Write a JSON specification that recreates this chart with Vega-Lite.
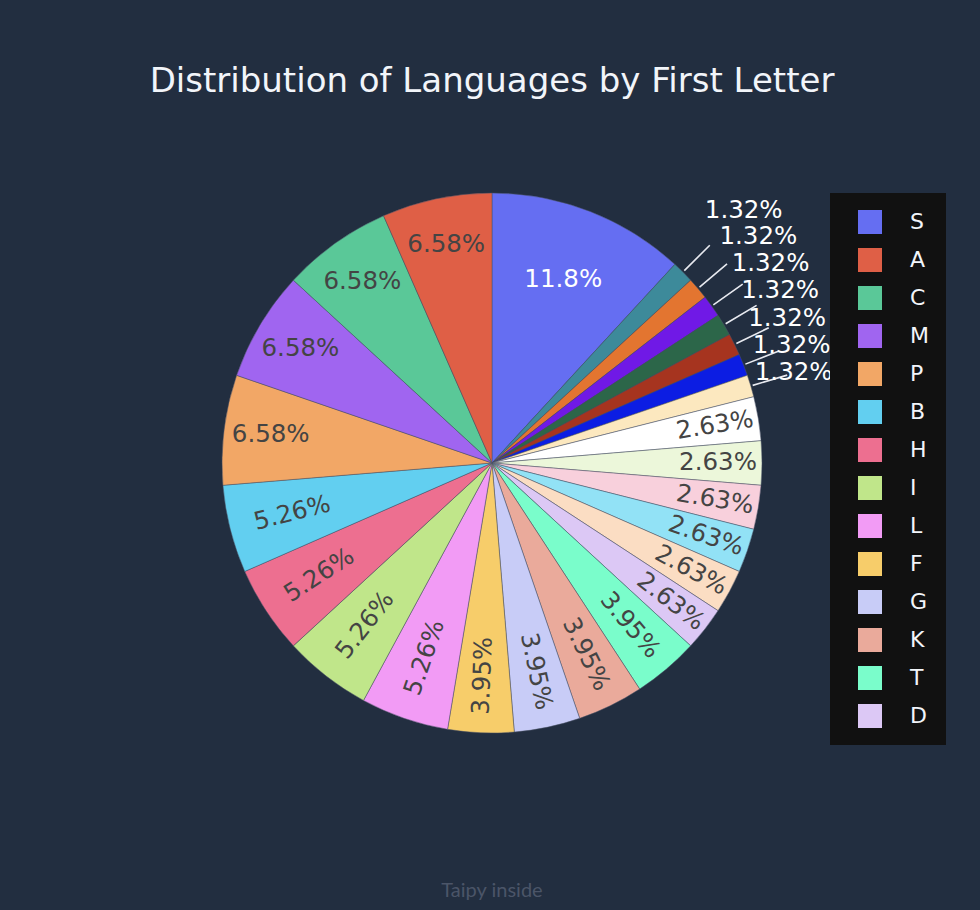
{
  "$schema": "https://vega.github.io/schema/vega-lite/v6.json",
  "background": "#222e40",
  "autosize": {"type": "pad"},
  "padding": {"left": 100, "top": 65, "right": 34, "bottom": 9},
  "bounds": "flush",
  "title": {
    "text": "Distribution of Languages by First Letter",
    "font": "DejaVu Sans",
    "fontSize": 34,
    "fontWeight": "normal",
    "color": "#f2f5fa",
    "anchor": "middle",
    "frame": "group",
    "baseline": "alphabetic",
    "offset": -16
  },
  "config": {
    "view": {"stroke": null, "fill": "#222e40"}
  },
  "vconcat": [
    {
      "width": 784,
      "height": 706,
      "title": {
        "text": "Taipy inside",
        "orient": "bottom",
        "anchor": "middle",
        "frame": "group",
        "baseline": "top",
        "offset": 65,
        "font": "Lato",
        "fontSize": 20,
        "fontWeight": "normal",
        "color": "#4b5568"
      },
      "data": {
        "values": [
          {"letter": "S", "count": 9},
          {"letter": "Z", "count": 1},
          {"letter": "Y", "count": 1},
          {"letter": "X", "count": 1},
          {"letter": "W", "count": 1},
          {"letter": "Q", "count": 1},
          {"letter": "O", "count": 1},
          {"letter": "J", "count": 1},
          {"letter": "V", "count": 2},
          {"letter": "U", "count": 2},
          {"letter": "R", "count": 2},
          {"letter": "N", "count": 2},
          {"letter": "E", "count": 2},
          {"letter": "D", "count": 2},
          {"letter": "T", "count": 3},
          {"letter": "K", "count": 3},
          {"letter": "G", "count": 3},
          {"letter": "F", "count": 3},
          {"letter": "L", "count": 4},
          {"letter": "I", "count": 4},
          {"letter": "H", "count": 4},
          {"letter": "B", "count": 4},
          {"letter": "P", "count": 5},
          {"letter": "M", "count": 5},
          {"letter": "C", "count": 5},
          {"letter": "A", "count": 5}
        ]
      },
      "transform": [
        {"window": [{"op": "row_number", "as": "idx"}]},
        {"joinaggregate": [{"op": "sum", "field": "count", "as": "total"}]},
        {"window": [{"op": "sum", "field": "count", "as": "cum"}], "sort": [{"field": "idx"}], "frame": [null, 0]},
        {"calculate": "datum.count / datum.total", "as": "frac"},
        {"calculate": "datum.cum - datum.count / 2", "as": "tmid"},
        {"calculate": "datum.tmid / datum.total * 360", "as": "mid"},
        {"calculate": "(datum.count >= 5 || datum.count == 1) ? 0 : (datum.mid < 180 ? datum.mid - 90 : datum.mid - 270)", "as": "rot"},
        {"calculate": "datum.count == 9 ? 196 : datum.count == 5 ? 223 : datum.count == 4 ? 206 : datum.count == 3 ? 213 : datum.count == 2 ? 226 : 356 - (datum.mid - 45) * 1.45", "as": "lr"}
      ],
      "layer": [
        {
          "mark": {"type": "arc", "radius": 270, "stroke": "#4a5366", "strokeWidth": 0.5},
          "encoding": {
            "theta": {"field": "count", "type": "quantitative", "stack": true},
            "order": {"field": "idx", "type": "quantitative"},
            "color": {
              "field": "letter",
              "type": "nominal",
              "scale": {
                "domain": ["S","A","C","M","P","B","H","I","L","F","G","K","T","D","E","N","R","U","V","J","O","Q","W","X","Y","Z"],
                "range": ["#656ef2","#df5f46","#5ac898","#a065f0","#f2a766","#62cff0","#ed6f90","#c0e68a","#f29bf5","#f7cd6a","#c8ccf7","#eaaa9b","#7afdcb","#dcc8f5","#fbddc3","#92e2f6","#f8d0dc","#ecf7da","#ffffff","#fce8bf","#0c1de3","#a6341f","#2c6649","#7019e6","#e37530","#3d8a9a"]
              },
              "legend": {
                "orient": "none",
                "legendX": 730,
                "legendY": 83,
                "title": null,
                "direction": "vertical",
                "values": ["S","A","C","M","P","B","H","I","L","F","G","K","T","D"],
                "fillColor": "#111111",
                "padding": 17,
                "symbolOffset": 11,
                "labelOffset": 28,
                "rowPadding": 14,
                "symbolType": "square",
                "symbolSize": 576,
                "symbolStrokeWidth": 0,
                "symbolOpacity": 1,
                "labelFont": "DejaVu Sans",
                "labelFontSize": 22,
                "labelColor": "#f2f5fa"
              }
            }
          }
        },
        {
          "mark": {"type": "arc", "radius": 308, "radius2": 272, "padAngle": 1.2, "fillOpacity": 0, "stroke": "#e8eaf0", "strokeWidth": 1.6},
          "encoding": {
            "theta": {"field": "count", "type": "quantitative", "stack": true},
            "order": {"field": "idx", "type": "quantitative"},
            "detail": {"field": "letter", "type": "nominal"},
            "strokeOpacity": {"condition": {"test": "datum.count == 1", "value": 1}, "value": 0}
          }
        },
        {
          "mark": {"type": "text", "font": "DejaVu Sans", "fontSize": 24.5, "align": "center", "baseline": "middle"},
          "encoding": {
            "theta": {"field": "tmid", "type": "quantitative"},
            "radius": {"field": "lr", "type": "quantitative", "scale": null},
            "angle": {"field": "rot", "type": "quantitative", "scale": null},
            "text": {"field": "frac", "type": "quantitative", "format": ".3p"},
            "fill": {"condition": {"test": "datum.count == 9 || datum.count == 1", "value": "#ffffff"}, "value": "#444444"}
          }
        }
      ]
    }
  ]
}
